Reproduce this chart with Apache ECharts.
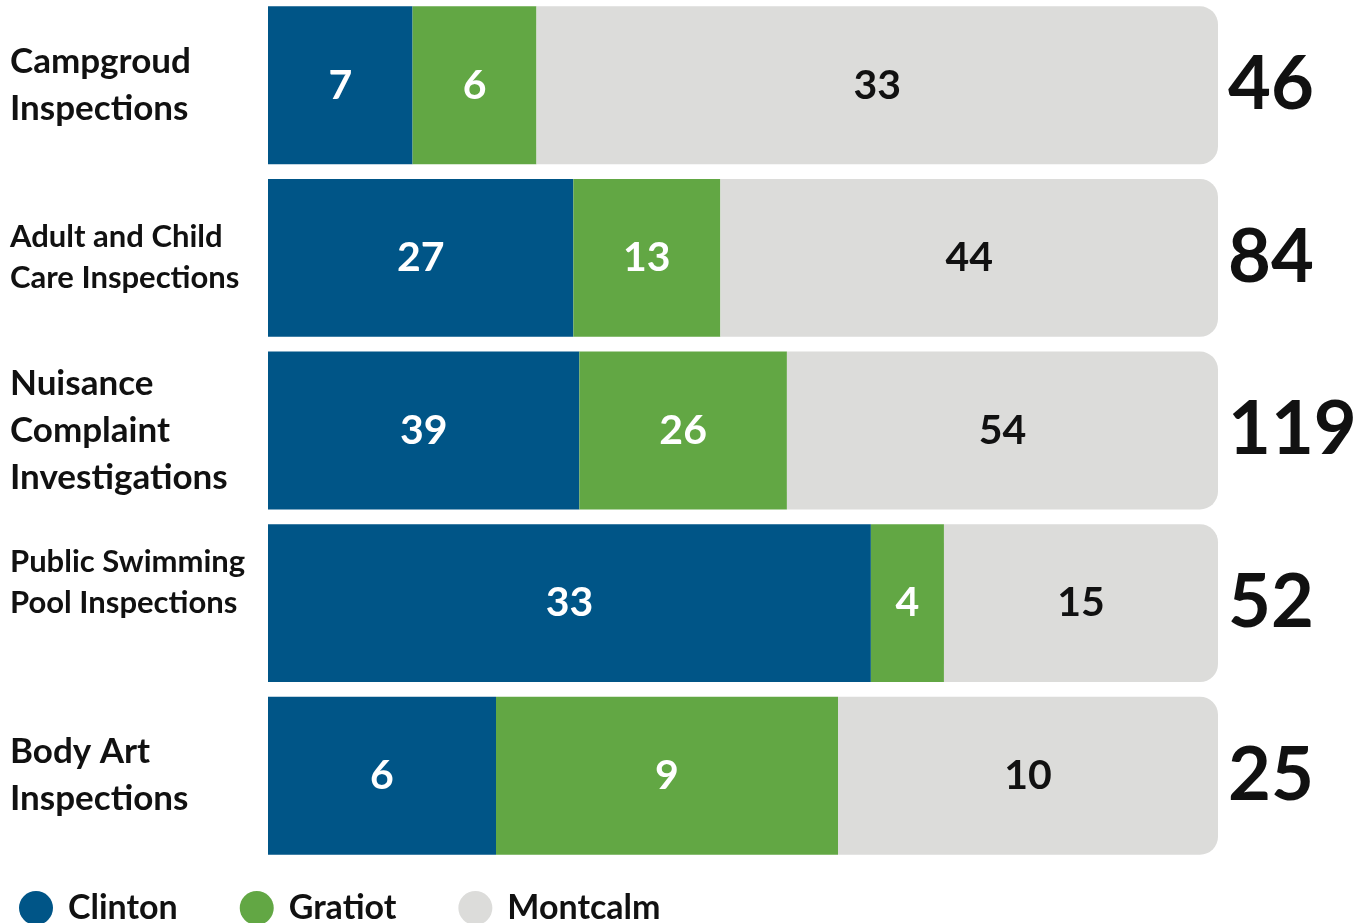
<!DOCTYPE html>
<html>
<head>
<meta charset="utf-8">
<script src="https://cdn.jsdelivr.net/npm/echarts@6/dist/echarts.min.js"></script>
<style>
  html, body { margin: 0; padding: 0; background: #fff; }
  #chart { width: 1367px; height: 923px; }
</style>
</head>
<body>
<div id="chart"></div>
<script>
const categories = [
  'Campgroud\nInspections',
  'Adult and Child\nCare Inspections',
  'Nuisance\nComplaint\nInvestigations',
  'Public Swimming\nPool Inspections',
  'Body Art\nInspections'
];
const labelSizes = [35, 31, 35, 31, 35];
const clinton = [7, 27, 39, 33, 6];
const gratiot = [6, 13, 26, 4, 9];
const montcalm = [33, 44, 54, 15, 10];
const totals = [46, 84, 119, 52, 25];

const FONT = 'Lato, "Noto Sans", sans-serif';
const colors = ['#005587', '#62a744', '#dcdcda'];

// bars are normalized so each row fills the same width
const share = (arr) => arr.map((v, i) => (v / totals[i]) * 100);

const chart = echarts.init(document.getElementById('chart'));

const segLabel = (raw, color) => ({
  show: true,
  position: 'inside',
  fontFamily: FONT,
  fontWeight: 'bold',
  fontSize: 41,
  color: color,
  formatter: (p) => raw[p.dataIndex]
});

const option = {
  animation: false,
  color: colors,
  grid: { left: 268, right: 149, top: -1, bottom: 61, outerBoundsMode: 'none' },
  legend: {
    left: 14,
    top: 886,
    icon: 'circle',
    itemWidth: 34,
    itemHeight: 34,
    itemGap: 62,
    textStyle: {
      fontFamily: FONT,
      fontWeight: 'bold',
      fontSize: 34,
      color: '#111',
      padding: [0, 0, 0, 10]
    },
    data: ['Clinton', 'Gratiot', 'Montcalm']
  },
  xAxis: {
    type: 'value',
    min: 0,
    max: 100,
    show: false
  },
  yAxis: [
    {
      type: 'category',
      inverse: true,
      data: categories.map((c, i) => ({
        value: c,
        textStyle: {
          align: 'left',
          fontFamily: FONT,
          fontWeight: 'bold',
          color: '#111',
          fontSize: labelSizes[i],
          lineHeight: labelSizes[i] > 32 ? 47 : 41
        }
      })),
      axisLine: { show: false },
      axisTick: { show: false },
      axisLabel: {
        align: 'left',
        margin: 258,
        fontFamily: FONT,
        fontWeight: 'bold',
        color: '#111',
        // the pool label sits a little higher than its bar in the original
        formatter: (v, i) => (i === 3 ? v + '\n' : v)
      }
    },
    {
      type: 'category',
      inverse: true,
      position: 'right',
      data: totals.map(String),
      axisLine: { show: false },
      axisTick: { show: false },
      axisLabel: {
        align: 'left',
        margin: 10,
        fontFamily: FONT,
        fontWeight: 'bold',
        fontSize: 74,
        color: '#111'
      }
    }
  ],
  series: [
    {
      name: 'Clinton',
      type: 'bar',
      stack: 'total',
      barCategoryGap: '8.5%',
      data: share(clinton),
      label: segLabel(clinton, '#fff')
    },
    {
      name: 'Gratiot',
      type: 'bar',
      stack: 'total',
      data: share(gratiot),
      label: segLabel(gratiot, '#fff')
    },
    {
      name: 'Montcalm',
      type: 'bar',
      stack: 'total',
      data: share(montcalm),
      itemStyle: { borderRadius: [0, 18, 18, 0] },
      label: segLabel(montcalm, '#111')
    }
  ]
};

chart.setOption(option);
</script>
</body>
</html>
